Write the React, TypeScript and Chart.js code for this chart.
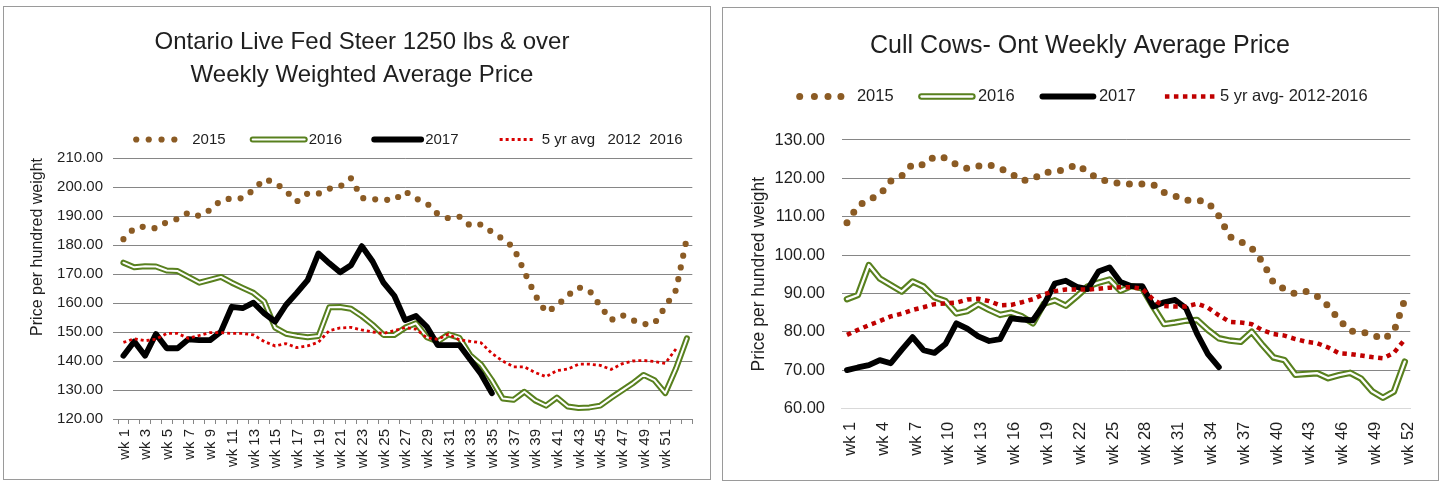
import React, { useEffect, useRef } from 'react';
import { Chart, registerables } from 'chart.js';

Chart.register(...registerables);

const FONT = "'Liberation Sans', Arial, Helvetica, sans-serif";
const TEXT = '#1f1f1f';
const GRID = '#868686';
const BROWN = '#8B5B24';
const GREEN = '#58801E';
const RED_L = '#D80000';
const RED_R = '#C00000';

// ---------- Left chart: Ontario Live Fed Steer ----------
const STEER_WEEKS = [
  'wk 1', 'wk 2', 'wk 3', 'wk 4', 'wk 5', 'wk 6', 'wk 7', 'wk 8', 'wk 9', 'wk 10',
  'wk 11', 'wk 12', 'wk 13', 'wk 14', 'wk 15', 'wk 16', 'wk 17', 'wk 18', 'wk 19', 'wk 20',
  'wk 21', 'wk 22', 'wk 23', 'wk 24', 'wk 25', 'wk 26', 'wk 27', 'wk 28', 'wk 29', 'wk 30',
  'wk 31', 'wk 32', 'wk 33', 'wk 34', 'wk 35', 'wk 36', 'wk 37', 'wk 38', 'wk 39', 'wk 40',
  'wk 41', 'wk 42', 'wk 43', 'wk 44', 'wk 45', 'wk 46', 'wk 47', 'wk 48', 'wk 49', 'wk 50',
  'wk 51', 'wk 52', '',
];
const STEER_2015 = [
  182.0, 185.8, 186.4, 185.7, 187.9, 189.0, 191.2, 190.0, 192.1, 195.4,
  196.1, 196.1, 199.0, 202.7, 201.5, 198.6, 195.0, 197.8, 197.7, 199.4,
  200.2, 203.0, 196.2, 195.8, 195.6, 195.5, 198.5, 196.0, 194.4, 190.7,
  189.2, 189.8, 186.7, 187.1, 184.5, 182.1, 179.2, 170.8, 162.7, 156.8,
  159.0, 162.6, 165.4, 164.3, 159.0, 154.1, 155.9, 154.1, 152.7, 152.9,
  158.7, 164.5, 182.5,
];
const STEER_2016 = [
  173.9, 172.3, 172.7, 172.6, 171.2, 171.0, 169.0, 167.0, 168.0, 169.0,
  167.0, 165.2, 163.5, 160.5, 151.5, 149.4, 148.7, 148.2, 148.6, 158.5,
  158.6, 158.0, 155.5, 152.5, 149.0, 149.0, 151.5, 153.0, 148.2, 146.7,
  149.2, 148.0, 142.0, 138.8, 133.4, 127.1, 126.6, 129.4, 126.4, 124.6,
  127.4, 124.3, 123.8, 124.0, 124.6, 127.3, 129.8, 132.3, 135.2, 133.4,
  128.9, 137.5, 147.8,
];
const STEER_2017 = [
  141.8, 146.7, 141.8, 149.3, 144.4, 144.4, 147.5, 147.2, 147.2, 150.1,
  158.7, 158.2, 160.1, 156.4, 153.6, 159.3, 163.5, 167.9, 177.1, 173.7,
  170.6, 173.0, 179.6, 174.3, 167.0, 162.5, 154.1, 155.5, 151.8, 145.5,
  145.5, 145.5, 140.5, 135.5, 128.9, null, null, null, null, null,
  null, null, null, null, null, null, null, null, null, null,
  null, null, null,
];
const STEER_AVG = [
  146.4, 147.7, 147.0, 147.5, 149.5, 149.5, 147.8, 148.8, 149.8, 149.8,
  149.5, 149.5, 149.0, 146.7, 145.2, 146.0, 144.6, 145.2, 146.5, 150.5,
  151.4, 151.6, 150.7, 150.0, 149.5, 150.5, 151.5, 151.0, 148.0, 147.5,
  149.2, 147.3, 146.8, 146.3, 142.6, 140.0, 138.0, 138.0, 136.0, 134.6,
  136.7, 137.2, 138.9, 138.9, 138.5, 137.1, 139.0, 140.0, 140.2, 139.8,
  139.2, 144.2, null,
];
const STEER_Y_TICKS = [120, 130, 140, 150, 160, 170, 180, 190, 200, 210];
const STEER_SERIES = ['2015', '2016', '2017', '5 yr avg   2012  2016'];

// ---------- Right chart: Cull Cows ----------
const COW_WEEKS = [
  'wk 1', 'wk 2', 'wk 3', 'wk 4', 'wk 5', 'wk 6', 'wk 7', 'wk 8', 'wk 9', 'wk 10',
  'wk 11', 'wk 12', 'wk 13', 'wk 14', 'wk 15', 'wk 16', 'wk 17', 'wk 18', 'wk 19', 'wk 20',
  'wk 21', 'wk 22', 'wk 23', 'wk 24', 'wk 25', 'wk 26', 'wk 27', 'wk 28', 'wk 29', 'wk 30',
  'wk 31', 'wk 32', 'wk 33', 'wk 34', 'wk 35', 'wk 36', 'wk 37', 'wk 38', 'wk 39', 'wk 40',
  'wk 41', 'wk 42', 'wk 43', 'wk 44', 'wk 45', 'wk 46', 'wk 47', 'wk 48', 'wk 49', 'wk 50',
  'wk 51', 'wk 52',
];
const COW_2015 = [
  108.4, 112.8, 114.5, 115.7, 119.3, 120.6, 123.7, 123.5, 125.7, 125.3,
  123.6, 122.6, 123.2, 123.5, 122.6, 121.3, 119.4, 119.8, 121.5, 121.8,
  122.3, 123.6, 121.7, 119.8, 119.2, 118.6, 118.5, 118.5, 118.4, 116.3,
  115.4, 114.3, 114.3, 113.8, 110.2, 104.8, 103.5, 101.8, 98.2, 92.8,
  91.1, 89.9, 90.5, 89.2, 86.7, 83.1, 80.2, 80.0, 79.3, 78.0,
  80.0, 88.4,
];
const COW_2016 = [
  88.5, 89.6, 97.4, 93.9, 92.2, 90.5, 93.1, 91.8, 89.0, 88.0,
  84.8, 85.4, 87.2, 85.7, 84.4, 85.0, 84.0, 82.2, 87.3, 88.2,
  86.8, 89.2, 91.8, 92.8, 93.6, 90.7, 91.9, 91.3, 86.5, 82.0,
  82.4, 82.9, 83.1, 80.5, 78.3, 77.7, 77.4, 80.0, 76.5, 73.3,
  72.6, 68.8, 69.0, 69.2, 67.9, 68.7, 69.3, 67.8, 64.5, 62.8,
  64.4, 72.2,
];
const COW_2017 = [
  70.0, 70.7, 71.3, 72.6, 71.8, 75.3, 78.6, 75.2, 74.5, 76.8,
  82.2, 80.8, 78.8, 77.6, 78.1, 83.5, 83.2, 83.0, 87.0, 92.6,
  93.3, 91.7, 91.1, 95.7, 96.8, 93.0, 91.9, 91.9, 86.6, 87.7,
  88.3, 86.1, 79.5, 74.2, 70.8, null, null, null, null, null,
  null, null, null, null, null, null, null, null, null, null,
  null, null,
];
const COW_AVG = [
  79.2, 80.5, 81.7, 82.8, 84.0, 84.7, 85.7, 86.4, 87.2, 87.4,
  87.6, 88.4, 88.6, 88.0, 86.9, 87.0, 87.7, 88.5, 89.8, 90.6,
  91.0, 91.0, 91.0, 91.2, 91.5, 91.6, 91.6, 91.2, 88.4, 86.7,
  86.6, 86.6, 87.3, 86.3, 84.3, 82.6, 82.4, 82.0, 80.4, 79.4,
  79.0, 78.1, 77.4, 77.0, 75.9, 74.4, 74.2, 73.8, 73.4, 73.1,
  74.5, 78.0,
];
const COW_Y_TICKS = [60, 70, 80, 90, 100, 110, 120, 130];
const COW_SERIES = ['2015', '2016', '2017', '5 yr avg- 2012-2016'];

// ---------- Excel-like legend plugin (samples drawn from dataset styles) ----------
type LegendItem = { dataset: number; kind: 'dots' | 'line' | 'double'; from?: number; to?: number; dots?: number[]; inner?: number };
type LegendOpts = { items: LegendItem[]; fontSize: number; textOffset: number; gap: number; center: 'area' | 'canvas'; dx: number; dy: number };

function makeLegend(opts: LegendOpts) {
  return {
    id: 'xlLegend',
    afterDraw(chart: any) {
      const { ctx, chartArea } = chart;
      const ds = chart.data.datasets;
      ctx.save();
      ctx.font = `${opts.fontSize}px ${FONT}`;
      const widths = opts.items.map((it) => ctx.measureText(ds[it.dataset].label).width);
      const total = widths.reduce((s, w) => s + opts.textOffset + w, 0) + opts.gap * (opts.items.length - 1);
      const cx = (opts.center === 'area' ? (chartArea.left + chartArea.right) / 2 : chart.width / 2) + opts.dx;
      let x = cx - total / 2;
      const y = chartArea.top + opts.dy;
      opts.items.forEach((it, i) => {
        const d = ds[it.dataset];
        ctx.save();
        if (it.kind === 'dots') {
          ctx.fillStyle = d.borderColor;
          for (const p of it.dots || []) {
            ctx.beginPath();
            ctx.arc(x + p, y, d.borderWidth / 2, 0, Math.PI * 2);
            ctx.fill();
          }
        } else {
          const stroke = (dd: any) => {
            ctx.beginPath();
            ctx.setLineDash(dd.borderDash || []);
            ctx.lineCap = dd.borderCapStyle || 'butt';
            ctx.strokeStyle = dd.borderColor;
            ctx.lineWidth = dd.borderWidth;
            ctx.moveTo(x + (it.from || 0), y);
            ctx.lineTo(x + (it.to || 0), y);
            ctx.stroke();
          };
          stroke(d);
          if (it.kind === 'double' && it.inner !== undefined) stroke(ds[it.inner]);
        }
        ctx.restore();
        ctx.fillStyle = TEXT;
        ctx.textAlign = 'left';
        ctx.textBaseline = 'middle';
        ctx.font = `${opts.fontSize}px ${FONT}`;
        ctx.fillText(d.label, x + opts.textOffset, y);
        x += opts.textOffset + widths[i] + opts.gap;
      });
      ctx.restore();
    },
  };
}

function steerConfig(): any {
  const tickFont = { family: FONT, size: 15 };
  return {
    type: 'line',
    data: {
      labels: STEER_WEEKS,
      datasets: [
        { label: STEER_SERIES[0], data: STEER_2015, borderColor: BROWN, borderWidth: 6.2, borderDash: [0, 12], borderCapStyle: 'round', order: 5 },
        { label: STEER_SERIES[1], data: STEER_2016, borderColor: GREEN, borderWidth: 6, borderCapStyle: 'round', borderJoinStyle: 'round', order: 4 },
        { label: '2016 inner', data: STEER_2016, borderColor: '#ffffff', borderWidth: 2, borderCapStyle: 'round', borderJoinStyle: 'round', order: 3 },
        { label: STEER_SERIES[2], data: STEER_2017, borderColor: '#000000', borderWidth: 5.8, borderCapStyle: 'round', borderJoinStyle: 'round', order: 2 },
        { label: STEER_SERIES[3], data: STEER_AVG, borderColor: RED_L, borderWidth: 2.8, borderDash: [3, 3], borderCapStyle: 'butt', order: 1 },
      ],
    },
    plugins: [
      makeLegend({
        items: [
          { dataset: 0, kind: 'dots', dots: [8.5, 21, 33.8, 46.6] },
          { dataset: 1, kind: 'double', inner: 2, from: 8.5, to: 60.5 },
          { dataset: 3, kind: 'line', from: 13.5, to: 60.5 },
          { dataset: 4, kind: 'line', from: 22.5, to: 58.5 },
        ],
        fontSize: 15, textOffset: 64.5, gap: 18.6, center: 'area', dx: 0, dy: -18.5,
      }),
    ],
    options: {
      animation: false,
      responsive: false,
      devicePixelRatio: 1,
      spanGaps: false,
      layout: { padding: { left: 20, right: 10, top: 0, bottom: 0 } },
      elements: { point: { radius: 0, hoverRadius: 0 }, line: { tension: 0, fill: false } },
      plugins: {
        legend: { display: false },
        tooltip: { enabled: false },
        title: {
          display: true,
          text: ['Ontario Live Fed Steer 1250 lbs & over', 'Weekly Weighted Average Price'],
          color: TEXT,
          font: { family: FONT, size: 24, weight: 'normal', lineHeight: 1.375 },
          padding: { top: 19, bottom: 66 },
        },
      },
      scales: {
        x: {
          type: 'category',
          offset: true,
          grid: { display: true, drawOnChartArea: false, drawTicks: true, tickLength: 5, color: GRID, offset: true },
          border: { display: true, color: GRID },
          ticks: {
            autoSkip: false, minRotation: 90, maxRotation: 90, padding: 5, color: TEXT, font: tickFont, labelOffset: 1,
            callback: (_v: any, i: number) => (i % 2 === 0 ? STEER_WEEKS[i] : ''),
          },
          afterFit: (s: any) => { s.height = 60; },
        },
        y: {
          min: 120, max: 210,
          afterBuildTicks: (s: any) => { s.ticks = STEER_Y_TICKS.map((v) => ({ value: v })); },
          grid: { color: GRID, drawTicks: true, tickLength: 5 },
          border: { display: false },
          ticks: { padding: 10, color: TEXT, font: tickFont, callback: (v: any) => Number(v).toFixed(2) },
          title: {
            display: true, text: 'Price per hundred weight', align: 'end', color: TEXT,
            font: { family: FONT, size: 16, lineHeight: 1.2 }, padding: { top: 4, bottom: 0 },
          },
          afterFit: (s: any) => { s.width = 94; },
        },
      },
    },
  };
}

function cowConfig(): any {
  const tickFont = { family: FONT, size: 16.5 };
  return {
    type: 'line',
    data: {
      labels: COW_WEEKS,
      datasets: [
        { label: COW_SERIES[0], data: COW_2015, borderColor: BROWN, borderWidth: 7, borderDash: [0, 12.5], borderCapStyle: 'round', order: 5 },
        { label: COW_SERIES[1], data: COW_2016, borderColor: GREEN, borderWidth: 6.5, borderCapStyle: 'round', borderJoinStyle: 'round', order: 4 },
        { label: '2016 inner', data: COW_2016, borderColor: '#ffffff', borderWidth: 2.3, borderCapStyle: 'round', borderJoinStyle: 'round', order: 3 },
        { label: COW_SERIES[2], data: COW_2017, borderColor: '#000000', borderWidth: 5.8, borderCapStyle: 'round', borderJoinStyle: 'round', order: 2 },
        { label: COW_SERIES[3], data: COW_AVG, borderColor: RED_R, borderWidth: 4.5, borderDash: [4.5, 4.5], borderCapStyle: 'butt', order: 1 },
      ],
    },
    plugins: [
      makeLegend({
        items: [
          { dataset: 0, kind: 'dots', dots: [2.3, 17, 30.6, 43.5] },
          { dataset: 1, kind: 'double', inner: 2, from: 3, to: 54 },
          { dataset: 3, kind: 'line', from: 3, to: 54 },
          { dataset: 4, kind: 'line', from: 4.5, to: 58 },
        ],
        fontSize: 16.5, textOffset: 59.5, gap: 24.8, center: 'canvas', dx: 2, dy: -43.5,
      }),
    ],
    options: {
      animation: false,
      responsive: false,
      devicePixelRatio: 1,
      spanGaps: false,
      layout: { padding: { left: 19.5, right: 20.5, top: 0, bottom: 0 } },
      elements: { point: { radius: 0, hoverRadius: 0 }, line: { tension: 0, fill: false } },
      plugins: {
        legend: { display: false },
        tooltip: { enabled: false },
        title: {
          display: true,
          text: 'Cull Cows- Ont Weekly Average Price',
          color: TEXT,
          font: { family: FONT, size: 25, weight: 'normal', lineHeight: 1.375 },
          padding: { top: 20.5, bottom: 77.1 },
        },
      },
      scales: {
        x: {
          type: 'category',
          offset: true,
          grid: { display: false, drawTicks: false },
          border: { display: true, color: '#d9d9d9' },
          ticks: {
            autoSkip: false, minRotation: 90, maxRotation: 90, padding: 13.2, color: TEXT, font: tickFont, labelOffset: 3.5,
            callback: (_v: any, i: number) => (i % 3 === 0 ? COW_WEEKS[i] : ''),
          },
          afterFit: (s: any) => { s.height = 71.5; },
        },
        y: {
          min: 60, max: 130,
          afterBuildTicks: (s: any) => { s.ticks = COW_Y_TICKS.map((v) => ({ value: v })); },
          grid: {
            drawTicks: false,
            color: (c: any) => (c.tick && c.tick.value === 60 ? '#d9d9d9' : GRID),
          },
          border: { display: false },
          ticks: { padding: 16.5, color: TEXT, font: tickFont, callback: (v: any) => Number(v).toFixed(2) },
          title: {
            display: true, text: 'Price per hundred weight', color: TEXT,
            font: { family: FONT, size: 17.5, lineHeight: 1.2 }, padding: { top: 6.2, bottom: 0 },
          },
          afterFit: (s: any) => { s.width = 99; },
        },
      },
    },
  };
}

function ChartBox(props: { config: () => any; left: number; top: number; width: number; height: number }) {
  const ref = useRef<HTMLCanvasElement>(null);
  const cw = props.width - 2;
  const ch = props.height - 2;
  useEffect(() => {
    const chart = new Chart(ref.current as HTMLCanvasElement, props.config());
    return () => chart.destroy();
  }, []);
  return (
    <div
      style={{
        position: 'absolute', left: props.left, top: props.top, width: props.width, height: props.height,
        boxSizing: 'border-box', border: '1px solid #9a9a9a', background: '#fff',
      }}
    >
      <canvas ref={ref} width={cw} height={ch} style={{ display: 'block', width: cw, height: ch }} />
    </div>
  );
}

export default function App() {
  return (
    <div style={{ position: 'absolute', left: 0, top: 0, width: 1440, height: 481, background: '#fff', overflow: 'hidden' }}>
      <ChartBox config={steerConfig} left={3} top={6} width={708} height={474} />
      <ChartBox config={cowConfig} left={722} top={7} width={717} height={474} />
    </div>
  );
}
